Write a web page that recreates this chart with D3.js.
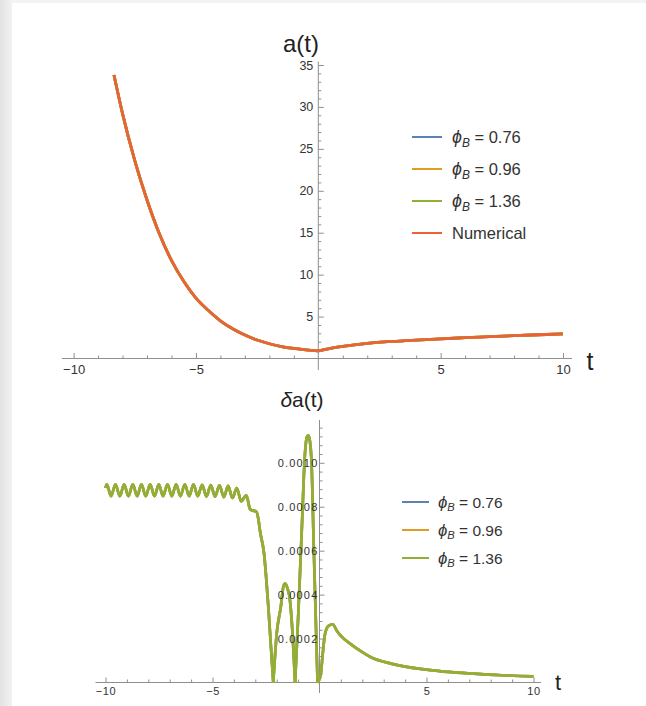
<!DOCTYPE html>
<html><head><meta charset="utf-8">
<script src="https://cdn.jsdelivr.net/npm/d3@7"></script>
<style>
html,body{margin:0;padding:0;background:#fff;}
svg{display:block;font-family:"Liberation Sans",Arial,sans-serif;}
</style></head><body>
<svg id="chart" width="646" height="706"></svg>
<script>
// ---------- data ----------
const seriesLabels = ["0.76", "0.96", "1.36"];
const seriesColors = ["#5E81B5", "#E19C24", "#8FB032"];
const numericalLabel = "Numerical";
const numericalColor = "#EB6235";
const xTickLabels = [-10, -5, 5, 10];
const topYTicks = [5, 10, 15, 20, 25, 30, 35];
const bottomYTicks = [0.0002, 0.0004, 0.0006, 0.0008, 0.0010];

// a(t) (all three analytic curves coincide with the numerical one)
const topT = [-8.35, -8, -7.5, -7, -6.5, -6, -5.5, -5, -4.5, -4, -3.5, -3, -2.5, -2, -1.5, -1, -0.5, 0,
              0.5, 1, 2, 3, 4, 5, 6, 7, 8, 9, 10];
const topA = [33.8, 29.2, 23.6, 18.9, 14.9, 11.7, 9.2, 7.2, 5.75, 4.5, 3.55, 2.8, 2.2, 1.76, 1.43, 1.2, 1.03, 0.92,
              1.22, 1.45, 1.8, 2.03, 2.2, 2.35, 2.48, 2.6, 2.72, 2.83, 2.93];

// δa(t)
const bottomT = [-10.0, -9.94, -9.74, -9.535, -9.33, -9.13, -8.93, -8.725, -8.52, -8.32, -8.12, -7.915, -7.71,
  -7.51, -7.31, -7.105, -6.90, -6.70, -6.50, -6.295, -6.09, -5.89, -5.69, -5.485, -5.28, -5.08, -4.88, -4.675,
  -4.47, -4.27, -4.07, -3.865, -3.66, -3.42, -3.25, -3.17, -2.95, -2.85, -2.78, -2.59, -2.39, -2.16,
  -2.0, -1.81, -1.68, -1.61, -1.50, -1.38, -1.25, -1.14,
  -0.99, -0.83, -0.68, -0.58, -0.52, -0.45, -0.38, -0.26, -0.09,
  0.05, 0.15, 0.26, 0.42, 0.62, 0.8, 1.0, 1.43, 2.0, 2.38, 3.34, 4.0, 5.0, 6.0, 7.19, 8.5, 10.0];
const bottomV = [0.000885, 0.000902, 0.000848, 0.000902, 0.000848, 0.000902, 0.000848, 0.000902, 0.000848,
  0.000902, 0.000848, 0.000902, 0.000848, 0.000902, 0.000848, 0.000902, 0.000848, 0.000902, 0.000848,
  0.000902, 0.000848, 0.000902, 0.000848, 0.000900, 0.000847, 0.000899, 0.000846, 0.000897, 0.000844,
  0.000895, 0.000840, 0.000885, 0.000825, 0.000852, 0.000790, 0.000784, 0.000778, 0.000740, 0.000690,
  0.000586, 0.000343, 0.0,
  0.000222, 0.000343, 0.000440, 0.000450, 0.000430, 0.000374, 0.000207, 0.0,
  0.000313, 0.000690, 0.001040, 0.001120, 0.001125, 0.001100, 0.001020, 0.000586, 0.0,
  0.000030, 0.000130, 0.000222, 0.000258, 0.000265, 0.000237, 0.000212, 0.000177, 0.000138, 0.000116,
  0.000086, 0.000072, 0.0000587, 0.000048, 0.000040, 0.000033, 0.000028];

// ---------- drawing ----------
const svg = d3.select("#chart");
const defs = svg.append("defs");
const grad = defs.append("linearGradient").attr("id", "edge").attr("x1", 0).attr("x2", 1);
grad.append("stop").attr("offset", 0).attr("stop-color", "#e2e2e2");
grad.append("stop").attr("offset", 1).attr("stop-color", "#f2f2f2");
svg.append("rect").attr("width", 646).attr("height", 706).attr("fill", "#f3f3f3");
svg.append("rect").attr("width", 12).attr("height", 706).attr("fill", "url(#edge)");
svg.append("rect").attr("x", 12).attr("y", 3).attr("width", 634).attr("height", 703).attr("fill", "#fff");

const axisColor = "#8e8e8e";
const textColor = "#333";
const fmtMinus = d => (d < 0 ? "\u2212" + Math.abs(d) : String(d));

function drawPanel(opt) {
  const g = svg.append("g");
  const x = opt.x, y = opt.y;
  const x0 = x(0), yz = y(0);
  g.append("line").attr("x1", opt.xLine[0]).attr("x2", opt.xLine[1]).attr("y1", yz).attr("y2", yz)
    .attr("stroke", axisColor).attr("stroke-width", 1);
  g.append("line").attr("x1", x0).attr("x2", x0).attr("y1", opt.yLine[0]).attr("y2", opt.yLine[1])
    .attr("stroke", axisColor).attr("stroke-width", 1);

  const xMinor = d3.range(-10, 11).filter(v => v !== 0 && v % 5 !== 0);
  g.append("g").attr("transform", `translate(0,${yz})`)
    .call(d3.axisBottom(x).tickValues(xMinor).tickSizeInner(-opt.minorLen).tickSizeOuter(0).tickFormat(""))
    .call(s => s.select(".domain").remove())
    .call(s => s.selectAll("line").attr("stroke", axisColor));
  g.append("g").attr("transform", `translate(0,${yz})`)
    .call(d3.axisBottom(x).tickValues(xTickLabels).tickSizeInner(-opt.majorLen).tickSizeOuter(0)
      .tickPadding(opt.xPad).tickFormat(fmtMinus))
    .call(s => s.select(".domain").remove())
    .call(s => s.selectAll("line").attr("stroke", axisColor))
    .call(s => s.selectAll("text").attr("fill", textColor).attr("font-size", opt.xFont)
      .attr("font-family", "'Liberation Sans',Arial,sans-serif").style("letter-spacing", opt.xSpacing));
  return g;
}

function yAxes(g, opt) {
  const x0 = opt.x(0);
  g.append("g").attr("transform", `translate(${x0},0)`)
    .call(d3.axisLeft(opt.y).tickValues(opt.yMinor).tickSizeInner(-opt.minorLen).tickSizeOuter(0).tickFormat(""))
    .call(s => s.select(".domain").remove())
    .call(s => s.selectAll("line").attr("stroke", axisColor));
  g.append("g").attr("transform", `translate(${x0},0)`)
    .call(d3.axisLeft(opt.y).tickValues(opt.yTicks).tickSizeInner(-opt.majorLen).tickSizeOuter(0)
      .tickPadding(opt.yPad).tickFormat(opt.yFmt))
    .call(s => s.select(".domain").remove())
    .call(s => s.selectAll("line").attr("stroke", axisColor))
    .call(s => s.selectAll("text").attr("fill", textColor).attr("font-size", opt.yFont)
      .attr("font-family", "'Liberation Sans',Arial,sans-serif").style("letter-spacing", opt.ySpacing));
}

function legend(g, items, x, y0, dy, lineLen, gap, fontSize) {
  items.forEach((it, i) => {
    const yy = y0 + i * dy;
    g.append("line").attr("x1", x).attr("x2", x + lineLen).attr("y1", yy).attr("y2", yy)
      .attr("stroke", it.color).attr("stroke-width", 2);
    const t = g.append("text").attr("x", x + lineLen + gap).attr("y", yy + fontSize * 0.36)
      .attr("font-size", fontSize).attr("fill", textColor);
    if (it.phi) {
      t.append("tspan").attr("font-style", "italic").attr("font-size", fontSize * 1.08).text("\u03D5");
      t.append("tspan").attr("font-style", "italic").attr("font-size", fontSize * 0.72).attr("dy", fontSize * 0.25).text("B");
      t.append("tspan").attr("dy", -fontSize * 0.25).text(" = " + it.label);
    } else {
      t.text(it.label);
    }
  });
}

function segments(ts, vs, isBreak) {
  const segs = [];
  let cur = [];
  ts.forEach((t, i) => {
    cur.push([t, vs[i]]);
    if (isBreak(i) && i > 0 && i < ts.length - 1) { segs.push(cur); cur = [[t, vs[i]]]; }
  });
  segs.push(cur);
  return segs;
}

// ---------- top panel ----------
const xT = d3.scaleLinear().domain([-10, 10]).range([73.6, 563]);
const yT = d3.scaleLinear().domain([0, 35]).range([358.5, 65]);
const gT = drawPanel({x: xT, y: yT, xLine: [62, 572], yLine: [61.5, 370], minorLen: 3, majorLen: 5.5,
  xPad: 6, xFont: "13px", xSpacing: "0px"});
yAxes(gT, {x: xT, y: yT, yTicks: topYTicks, yMinor: d3.range(1, 36).filter(v => v % 5 !== 0),
  minorLen: 3, majorLen: 5.5, yPad: 5, yFmt: d => String(d), yFont: "12.5px", ySpacing: "0px"});

const lineT = d3.line().x(d => xT(d[0])).y(d => yT(d[1])).curve(d3.curveMonotoneX);
const topSegs = segments(topT, topA, i => topT[i] === 0);
[...seriesColors, numericalColor].forEach(c => {
  topSegs.forEach(s => gT.append("path").attr("d", lineT(s)).attr("fill", "none")
    .attr("stroke", c).attr("stroke-width", 2.8).attr("stroke-linejoin", "round"));
});

gT.append("text").attr("x", 301).attr("y", 52).attr("text-anchor", "middle").attr("font-size", 24)
  .attr("fill", "#222").text("a(t)");
gT.append("text").attr("x", 590).attr("y", 370).attr("text-anchor", "middle").attr("font-size", 25)
  .attr("fill", "#222").text("t");
legend(gT, [...seriesLabels.map((l, i) => ({phi: true, label: l, color: seriesColors[i]})),
  {phi: false, label: numericalLabel, color: numericalColor}], 412, 137, 32, 30, 10, 16.5);

// ---------- bottom panel ----------
const xB = d3.scaleLinear().domain([-10, 10]).range([105.5, 533.5]);
const yB = d3.scaleLinear().domain([0, 0.001]).range([682.5, 462.8]);
const gB = drawPanel({x: xB, y: yB, xLine: [95.5, 541], yLine: [420, 693], minorLen: 3, majorLen: 5,
  xPad: 5, xFont: "11px", xSpacing: "0.6px"});

const lineB = d3.line().x(d => xB(d[0])).y(d => yB(d[1])).curve(d3.curveMonotoneX);
const botSegs = segments(bottomT, bottomV, i => bottomV[i] === 0);
seriesColors.forEach(c => {
  botSegs.forEach(s => gB.append("path").attr("d", lineB(s)).attr("fill", "none")
    .attr("stroke", c).attr("stroke-width", 2.7).attr("stroke-linejoin", "round"));
});

yAxes(gB, {x: xB, y: yB, yTicks: bottomYTicks, yMinor: d3.range(1, 30).map(k => k * 0.00004).filter((v, i) => (i + 1) % 5 !== 0),
  minorLen: 3, majorLen: 5, yPad: 1, yFmt: d3.format(".4f"), yFont: "11px", ySpacing: "1.2px"});

gB.append("text").attr("x", 302).attr("y", 407).attr("text-anchor", "middle").attr("font-size", 21)
  .attr("fill", "#222")
  .call(t => { t.append("tspan").attr("font-style", "italic").text("\u03B4"); t.append("tspan").text("a(t)"); });
gB.append("text").attr("x", 558).attr("y", 690).attr("text-anchor", "middle").attr("font-size", 22)
  .attr("fill", "#222").text("t");
legend(gB, seriesLabels.map((l, i) => ({phi: true, label: l, color: seriesColors[i]})), 402, 502, 28, 27, 9, 15.5);
</script>
</body></html>
